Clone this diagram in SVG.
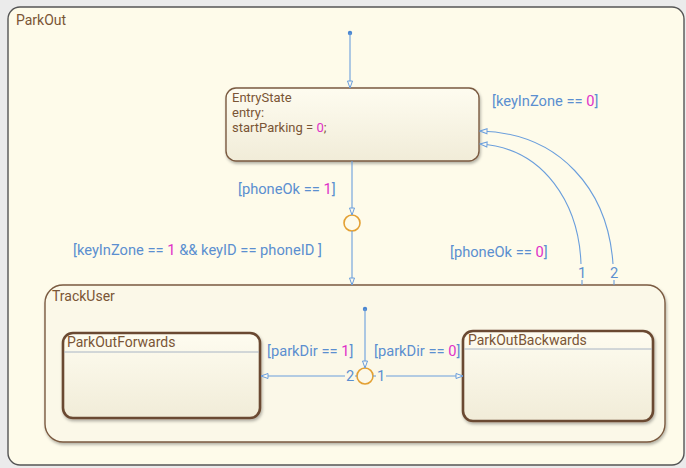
<svg xmlns="http://www.w3.org/2000/svg" width="686" height="468" viewBox="0 0 686 468">
<style>
.st{font-family:Roboto,"Liberation Sans",sans-serif;font-size:14px;fill:#7a5535}
.es{font-size:13px}
.tl{font-family:Roboto,"Liberation Sans",sans-serif;font-size:14.7px;fill:#5b8fd0}
.num{fill:#e030c8}
.tr{fill:none;stroke:#6a9edc;stroke-width:1.1}
.jn{fill:none;stroke:#e3a033;stroke-width:1.6}
.box{stroke:#7a5a40;stroke-width:1.4}
.box2{stroke:#6b4a30;stroke-width:2.6}
</style>
<defs>
<linearGradient id="g" x1="0" y1="0" x2="0" y2="1">
<stop offset="0" stop-color="#fefcf0"/>
<stop offset="1" stop-color="#f1ecd8"/>
</linearGradient>
<filter id="sh" x="-10%" y="-10%" width="120%" height="130%">
<feDropShadow dx="1" dy="2" stdDeviation="1.5" flood-color="#000" flood-opacity="0.3"/>
</filter>
<marker id="ar" markerWidth="10" markerHeight="8" refX="9" refY="4" orient="auto" markerUnits="userSpaceOnUse">
<path d="M2,1.5 L9,4 L2,6.5 Z" fill="#fbf9ef" stroke="#6a9edc" stroke-width="1"/>
</marker>
</defs>
<rect width="686" height="468" fill="#ebebeb"/>
<g id="ParkOut">
<rect x="8" y="7" width="676" height="458" rx="12" fill="#fefbea" stroke="#555" stroke-width="1.4"/>
<text class="st" x="16" y="25">ParkOut</text>
</g>
<g id="EntryState">
<rect x="226" y="88" width="253" height="73" rx="10" fill="url(#g)" class="box" filter="url(#sh)"/>
<text class="st es" x="232" y="102">EntryState</text>
<text class="st es" x="232" y="117">entry:</text>
<text class="st es" x="232" y="132">startParking = <tspan class="num">0</tspan>;</text>
</g>
<g id="TrackUser">
<rect x="45" y="285" width="620" height="157" rx="18" fill="#fbf8e8" stroke="#7a5a40" stroke-width="1.4" filter="url(#sh)"/>
<text class="st" x="52" y="301">TrackUser</text>
</g>
<g id="ParkOutForwards">
<rect x="63" y="333" width="197" height="85" rx="10" fill="url(#g)" class="box2" filter="url(#sh)"/>
<line x1="64" y1="352" x2="259" y2="352" stroke="#a8b4c4" stroke-width="1"/>
<text class="st" x="67" y="347">ParkOutForwards</text>
</g>
<g id="ParkOutBackwards">
<rect x="463" y="331" width="190" height="90" rx="10" fill="url(#g)" class="box2" filter="url(#sh)"/>
<line x1="464" y1="349" x2="652" y2="349" stroke="#a8b4c4" stroke-width="1"/>
<text class="st" x="468" y="345">ParkOutBackwards</text>
</g>
<g id="junction1"><circle cx="352" cy="223" r="8" class="jn"/></g>
<g id="junction2"><circle cx="365" cy="376" r="8" class="jn"/></g>
<g id="connectors">
<circle cx="350" cy="33" r="2.2" fill="#4a86d0"/>
<line x1="350" y1="33" x2="350" y2="88" class="tr" marker-end="url(#ar)"/>
<line x1="352" y1="161" x2="352" y2="215" class="tr" marker-end="url(#ar)"/>
<line x1="352" y1="231" x2="352" y2="285" class="tr" marker-end="url(#ar)"/>
<circle cx="365" cy="309" r="2.2" fill="#4a86d0"/>
<line x1="365" y1="309" x2="365" y2="368" class="tr" marker-end="url(#ar)"/>
<line x1="355" y1="376" x2="357" y2="376" class="tr"/>
<line x1="345" y1="376" x2="261" y2="376" class="tr" marker-end="url(#ar)"/>
<line x1="373" y1="376" x2="376" y2="376" class="tr"/>
<line x1="386" y1="376" x2="463" y2="376" class="tr" marker-end="url(#ar)"/>
<line x1="582" y1="285" x2="582" y2="280" class="tr"/>
<path d="M581,264 C579,205 545,148 480,144" class="tr" marker-end="url(#ar)"/>
<line x1="614" y1="285" x2="614" y2="280" class="tr"/>
<path d="M613,264 C608,190 560,133 480,131" class="tr" marker-end="url(#ar)"/>
<text class="tl" x="346" y="381">2</text>
<text class="tl" x="377" y="381">1</text>
<text class="tl" x="578" y="278">1</text>
<text class="tl" x="610" y="278">2</text>
<text class="tl" x="238" y="194">[phoneOk == <tspan class="num">1</tspan>]</text>
<text class="tl" x="73" y="255">[keyInZone == <tspan class="num">1</tspan> &amp;&amp; keyID == phoneID ]</text>
<text class="tl" x="492" y="106">[keyInZone == <tspan class="num">0</tspan>]</text>
<text class="tl" x="450" y="257">[phoneOk == <tspan class="num">0</tspan>]</text>
<text class="tl" x="267" y="356">[parkDir == <tspan class="num">1</tspan>]</text>
<text class="tl" x="374" y="356">[parkDir == <tspan class="num">0</tspan>]</text>
</g>
</svg>
